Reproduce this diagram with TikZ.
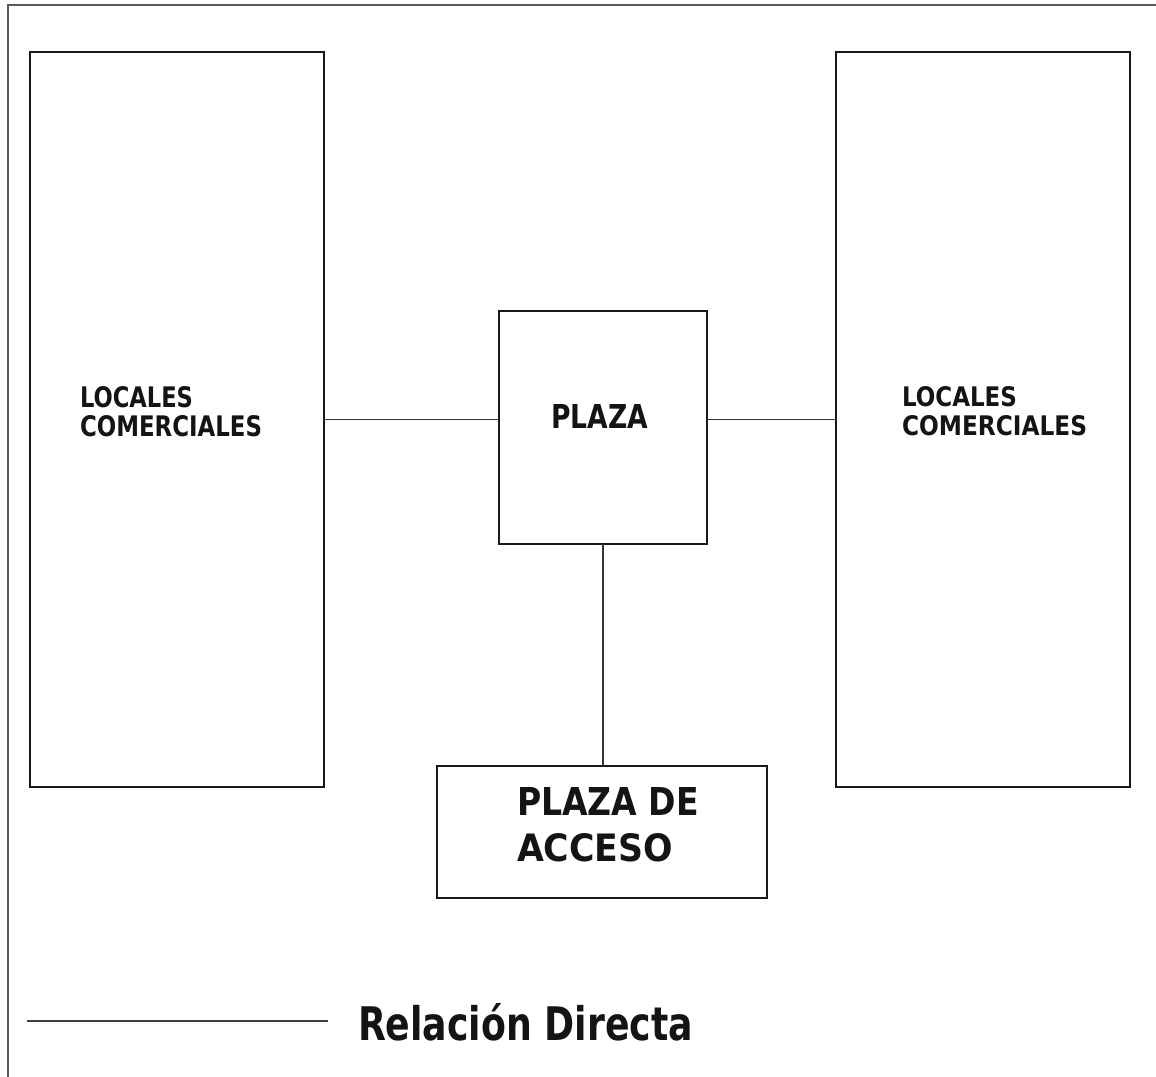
\documentclass[tikz,border=0pt]{standalone}
\usepackage{fontspec}
\usepackage{graphicx}
\newfontfamily\vbfont{DejaVu Sans}
\newcommand\mytxt[3]{\resizebox{#1pt}{#2pt}{\vbfont\bfseries #3}}
\tikzset{
  boxstyle/.style={draw=black!90, line width=2.8pt, rectangle, inner sep=0pt, outer sep=0pt},
  linkstyle/.style={draw=black!80, line width=1.4pt},
  framestyle/.style={draw=black!65, line width=1.6pt},
  legendline/.style={draw=black!75, line width=2pt},
  lbl/.style={anchor=base west, inner sep=0pt, outer sep=0pt, text=black!92}
}
\begin{document}
\begin{tikzpicture}[x=1pt,y=-1pt]
\useasboundingbox (0,0) rectangle (1156,1076);
\fill[white] (0,0) rectangle (1156,1076);
% outer frame
\coordinate (fA) at (1160,5);
\coordinate (fB) at (8,5);
\coordinate (fC) at (8,1080);
\draw[framestyle] (fA) -- (fB) -- (fC);
% boxes
\node[boxstyle, minimum width=294pt, minimum height=735pt] (left) at (177,419.5) {};
\node[boxstyle, minimum width=294pt, minimum height=735pt] (right) at (983,419.5) {};
\node[boxstyle, minimum width=208pt, minimum height=233pt] (plaza) at (603,427.5) {};
\node[boxstyle, minimum width=330pt, minimum height=132pt] (acceso) at (602,832) {};
% connectors
\draw[linkstyle] (left.east) -- (left.east -| plaza.west);
\draw[linkstyle] (right.west) -- (right.west -| plaza.east);
\draw[linkstyle] (plaza.south) -- (plaza.south |- acceso.north);
% labels
\node[lbl] (l1a) at (80,407) {\mytxt{113}{21}{LOCALES}};
\node[lbl] (l1b) at (80,436) {\mytxt{182}{21}{COMERCIALES}};
\node[lbl] (l2a) at (902,406) {\mytxt{115}{20}{LOCALES}};
\node[lbl] (l2b) at (902,435) {\mytxt{185}{20}{COMERCIALES}};
\node[lbl] (pl) at (551,428) {\mytxt{97}{24}{PLAZA}};
\node[lbl] (pa1) at (517,815) {\mytxt{182}{28}{PLAZA DE}};
\node[lbl] (pa2) at (517,861) {\mytxt{156}{28}{ACCESO}};
% legend
\coordinate (legA) at (27,1021);
\coordinate (legB) at (328,1021);
\draw[legendline] (legA) -- (legB);
\node[lbl] (legtxt) at (358,1040) {\mytxt{335}{37}{Relación Directa}};
\end{tikzpicture}
\end{document}
